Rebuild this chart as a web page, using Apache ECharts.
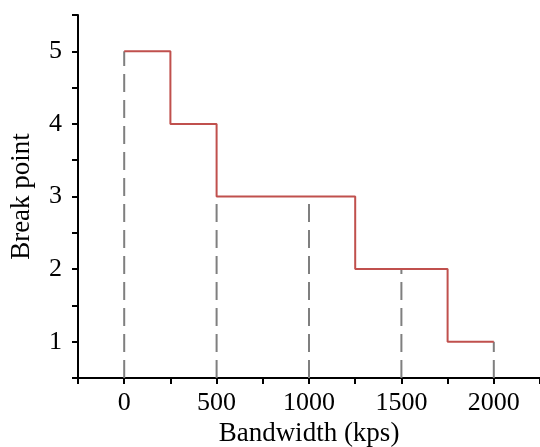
<!DOCTYPE html>
<html><head><meta charset="utf-8">
<script src="https://cdn.jsdelivr.net/npm/echarts@6/dist/echarts.min.js"></script>
<style>html,body{margin:0;padding:0;background:#fff}#c{width:540px;height:447px}</style>
</head><body><div id="c"></div>
<script>
const stepX = [0, 250, 500, 1250, 1750, 2000];
const stepY = [5, 4, 3, 2, 1, 1];
const dashX = [0, 500, 1000, 1500, 2000];
const dashTop = [5, 3, 3, 2, 1];
const xLabels = [0, 500, 1000, 1500, 2000];
const yLabels = [1, 2, 3, 4, 5];

const font = 'Liberation Serif';
const chart = echarts.init(document.getElementById('c'));
const series = [];
dashX.forEach((x, i) => {
  series.push({
    type: 'line', data: [[x, 0.5], [x, dashTop[i]]], symbol: 'none', silent: true,
    lineStyle: { color: '#7f7f7f', width: 2, type: [18, 8] }, z: 1
  });
});
series.push({
  type: 'line', step: 'end', data: stepX.map((x, i) => [x, stepY[i]]), symbol: 'none',
  lineStyle: { color: '#c0504d', width: 2 }, z: 2
});
chart.setOption({
  animation: false,
  grid: { left: 78, right: 0, top: 15, bottom: 69, containLabel: false, outerBoundsMode: 'none' },
  xAxis: {
    type: 'value', min: -250, max: 2250, interval: 250,
    name: 'Bandwidth (kps)', nameLocation: 'middle', nameGap: 37,
    nameTextStyle: { fontFamily: font, fontSize: 27, color: '#000' },
    axisLine: { show: true, onZero: false, lineStyle: { color: '#000', width: 2 } },
    axisTick: { show: true, inside: false, length: 6, lineStyle: { color: '#000', width: 2 } },
    axisLabel: { fontFamily: font, fontSize: 26, color: '#000', margin: 12,
      formatter: v => xLabels.includes(v) ? String(v) : '' },
    splitLine: { show: false }
  },
  yAxis: {
    type: 'value', min: 0.5, max: 5.5, interval: 0.5,
    name: 'Break point', nameLocation: 'middle', nameGap: 43,
    nameTextStyle: { fontFamily: font, fontSize: 27, color: '#000' },
    axisLine: { show: true, onZero: false, lineStyle: { color: '#000', width: 2 } },
    axisTick: { show: true, inside: false, length: 6, lineStyle: { color: '#000', width: 2 } },
    axisLabel: { fontFamily: font, fontSize: 26, color: '#000', margin: 16,
      formatter: v => yLabels.includes(v) ? String(v) : '' },
    splitLine: { show: false }
  },
  series
});
</script></body></html>
